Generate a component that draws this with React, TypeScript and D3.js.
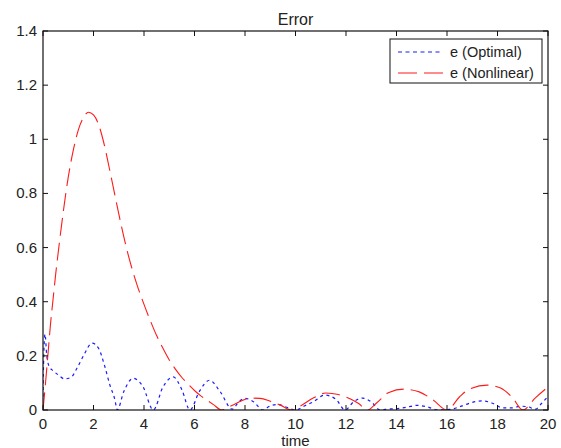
import React from "react";
import * as d3 from "d3";

const xTicks = [0, 2, 4, 6, 8, 10, 12, 14, 16, 18, 20];
const yTicks = [0, 0.2, 0.4, 0.6, 0.8, 1, 1.2, 1.4];

const timeOptimal = [0, 0.03, 0.08, 0.15, 0.25, 0.4, 0.6, 0.85, 1.1, 1.35, 1.6, 1.95, 2.2, 2.45, 2.65, 2.85, 2.94, 3.2, 3.57, 3.95, 4.37, 4.75, 5.16, 5.5, 5.82, 6.2, 6.6, 7.0, 7.5, 7.75, 8.0, 8.35, 8.7, 9.0, 9.3, 9.6, 10.0, 10.35, 10.7, 11.15, 11.6, 11.96, 12.3, 12.65, 13.0, 13.35, 13.7, 14.0, 14.4, 14.8, 15.2, 15.65, 16.1, 16.6, 17.0, 17.4, 17.8, 18.2, 18.6, 18.9, 19.2, 19.5, 19.75, 20];
const eOptimal = [0.05, 0.2, 0.28, 0.2, 0.16, 0.145, 0.13, 0.115, 0.12, 0.155, 0.2, 0.247, 0.228, 0.16, 0.092, 0.037, 0, 0.068, 0.117, 0.088, 0, 0.085, 0.122, 0.075, 0, 0.07, 0.11, 0.07, 0.003, 0.03, 0.043, 0.03, 0, 0.015, 0.02, 0.012, 0, 0.015, 0.03, 0.055, 0.04, 0, 0.03, 0.044, 0.03, 0, 0.004, 0.005, 0.01, 0.017, 0.012, 0, 0.002, 0.015, 0.028, 0.034, 0.025, 0.008, 0.008, 0.014, 0.012, 0.003, 0.025, 0.05];

const timeNonlinear = [0, 0.1, 0.2, 0.3, 0.4, 0.5, 0.6, 0.8, 1.0, 1.2, 1.4, 1.6, 1.8, 2.0, 2.2, 2.4, 2.6, 2.8, 3.0, 3.25, 3.5, 3.75, 4.0, 4.25, 4.5, 4.75, 5.0, 5.25, 5.5, 5.75, 6.0, 6.25, 6.5, 6.75, 7.07, 7.5, 7.85, 8.2, 8.6, 9.0, 9.4, 9.85, 10.2, 10.7, 11.2, 11.7, 12.2, 12.5, 12.85, 13.2, 13.7, 14.3, 14.9, 15.45, 16.0, 16.5, 16.9, 17.6, 18.1, 18.6, 19.0, 19.5, 20];
const eNonlinear = [0, 0.1, 0.21, 0.32, 0.41, 0.5, 0.58, 0.73, 0.86, 0.96, 1.035, 1.08, 1.1, 1.09, 1.055, 0.99, 0.905, 0.815, 0.725, 0.62, 0.53, 0.455, 0.39, 0.33, 0.275, 0.228, 0.185, 0.15, 0.12, 0.095, 0.072, 0.052, 0.036, 0.02, 0, 0.018, 0.033, 0.044, 0.043, 0.032, 0.018, 0, 0.015, 0.044, 0.063, 0.057, 0.04, 0.024, 0, 0.025, 0.065, 0.077, 0.067, 0.037, 0, 0.049, 0.078, 0.092, 0.082, 0.045, 0, 0.045, 0.085];

const seriesNames = ["e (Optimal)", "e (Nonlinear)"];

const W = 561, H = 448;
const L = 43, R = 548, T = 31, B = 410;
const FONT = "'Liberation Sans', Arial, Helvetica, sans-serif";

export default function App() {
  const x = d3.scaleLinear().domain([0, 20]).range([L, R]);
  const y = d3.scaleLinear().domain([0, 1.4]).range([B, T]);
  const line = d3.line<[number, number]>().x(d => x(d[0])).y(d => y(d[1])).curve(d3.curveMonotoneX);
  const optPts = timeOptimal.map((t, i) => [t, eOptimal[i]] as [number, number]);
  const nlPts = timeNonlinear.map((t, i) => [t, eNonlinear[i]] as [number, number]);
  const tickLen = 5;
  const blue = "#1a1aff";
  const red = "#ff1a1a";
  const txt = "#222";
  return (
    <svg width={W} height={H} style={{ position: "absolute", left: 0, top: 0, background: "#fff" }} fontFamily={FONT}>
      <defs>
        <clipPath id="plot"><rect x={L} y={T} width={R - L} height={B - T} /></clipPath>
      </defs>
      <rect x={0} y={0} width={W} height={H} fill="#fff" />
      <g clipPath="url(#plot)" fill="none">
        <path d={line(optPts) || ""} stroke={blue} strokeWidth={1.2} strokeDasharray="3,3.5" />
        <path d={line(nlPts) || ""} stroke={red} strokeWidth={1.1} strokeDasharray="18,7" />
      </g>
      <rect x={L} y={T} width={R - L} height={B - T} fill="none" stroke="#111" strokeWidth={1.2} />
      {xTicks.map(t => (
        <g key={"x" + t}>
          <line x1={x(t)} x2={x(t)} y1={B} y2={B - tickLen} stroke="#111" />
          <line x1={x(t)} x2={x(t)} y1={T} y2={T + tickLen} stroke="#111" />
          <text x={x(t)} y={429} textAnchor="middle" fontSize={15} fill={txt}>{t}</text>
        </g>
      ))}
      {yTicks.map(t => (
        <g key={"y" + t}>
          <line x1={L} x2={L + tickLen} y1={y(t)} y2={y(t)} stroke="#111" />
          <line x1={R} x2={R - tickLen} y1={y(t)} y2={y(t)} stroke="#111" />
          <text x={37} y={y(t) + 5} textAnchor="end" fontSize={15} fill={txt}>{String(t)}</text>
        </g>
      ))}
      <text x={(L + R) / 2} y={25} textAnchor="middle" fontSize={16} fill={txt}>Error</text>
      <text x={(L + R) / 2} y={446} textAnchor="middle" fontSize={15} fill={txt}>time</text>
      <g>
        <rect x={390} y={39} width={152} height={44} fill="#fff" stroke="#111" strokeWidth={1} />
        <line x1={398} x2={443} y1={52} y2={52} stroke={blue} strokeWidth={1.2} strokeDasharray="4,3.5" />
        <text x={450} y={57} fontSize={14.5} fill={txt}>{seriesNames[0]}</text>
        <line x1={398} x2={443} y1={73} y2={73} stroke={red} strokeWidth={1.2} strokeDasharray="19,7" />
        <text x={450} y={78} fontSize={14.5} fill={txt}>{seriesNames[1]}</text>
      </g>
    </svg>
  );
}
